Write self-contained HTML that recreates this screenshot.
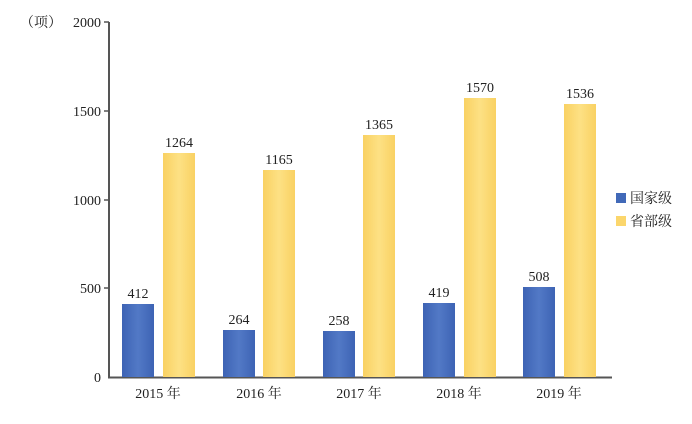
<!DOCTYPE html>
<html><head><meta charset="utf-8"><style>
body{margin:0;background:#fff}
svg text{font-family:"Liberation Serif","Noto Serif CJK SC",serif;fill:#222}
</style></head><body>
<svg width="692" height="419" xmlns="http://www.w3.org/2000/svg">
<defs>
<linearGradient id="b" x1="0" x2="1"><stop offset="0" stop-color="#3d63b4"/><stop offset=".5" stop-color="#5279c6"/><stop offset="1" stop-color="#3d63b4"/></linearGradient>
<linearGradient id="y" x1="0" x2="1"><stop offset="0" stop-color="#f9d163"/><stop offset=".5" stop-color="#fde184"/><stop offset="1" stop-color="#f9d163"/></linearGradient>
</defs>
<line x1="109" y1="22" x2="109" y2="378" stroke="#555" stroke-width="2"/>
<line x1="108" y1="377.5" x2="612" y2="377.5" stroke="#555" stroke-width="2"/>
<g stroke="#555" stroke-width="1.5">
<line x1="104" y1="22" x2="109" y2="22"/><line x1="104" y1="111" x2="109" y2="111"/><line x1="104" y1="200" x2="109" y2="200"/><line x1="104" y1="288" x2="109" y2="288"/>
</g>
<g font-size="14" text-anchor="end">
<text x="101" y="27">2000</text><text x="101" y="116">1500</text><text x="101" y="205">1000</text><text x="101" y="293">500</text><text x="101" y="382">0</text>
</g>
<text x="20" y="27" font-size="14">（项）</text>
<g>
<rect x="122" y="304" width="32" height="73" fill="url(#b)"/>
<rect x="163" y="153" width="32" height="224" fill="url(#y)"/>
<rect x="223" y="330" width="32" height="47" fill="url(#b)"/>
<rect x="263" y="170" width="32" height="207" fill="url(#y)"/>
<rect x="323" y="331" width="32" height="46" fill="url(#b)"/>
<rect x="363" y="135" width="32" height="242" fill="url(#y)"/>
<rect x="423" y="303" width="32" height="74" fill="url(#b)"/>
<rect x="464" y="98" width="32" height="279" fill="url(#y)"/>
<rect x="523" y="287" width="32" height="90" fill="url(#b)"/>
<rect x="564" y="104" width="32" height="273" fill="url(#y)"/>
</g>
<g font-size="14" text-anchor="middle">
<text x="138" y="298">412</text><text x="179" y="147">1264</text>
<text x="239" y="324">264</text><text x="279" y="164">1165</text>
<text x="339" y="325">258</text><text x="379" y="129">1365</text>
<text x="439" y="297">419</text><text x="480" y="92">1570</text>
<text x="539" y="281">508</text><text x="580" y="98">1536</text>
</g>
<g font-size="14" text-anchor="middle">
<text x="158" y="398">2015 年</text><text x="259" y="398">2016 年</text><text x="359" y="398">2017 年</text><text x="459" y="398">2018 年</text><text x="559" y="398">2019 年</text>
</g>
<rect x="616" y="193" width="10" height="10" fill="#4169b8"/>
<rect x="616" y="216" width="10" height="10" fill="#fbd66c"/>
<text x="630" y="203" font-size="14">国家级</text>
<text x="630" y="226" font-size="14">省部级</text>
</svg>
</body></html>
